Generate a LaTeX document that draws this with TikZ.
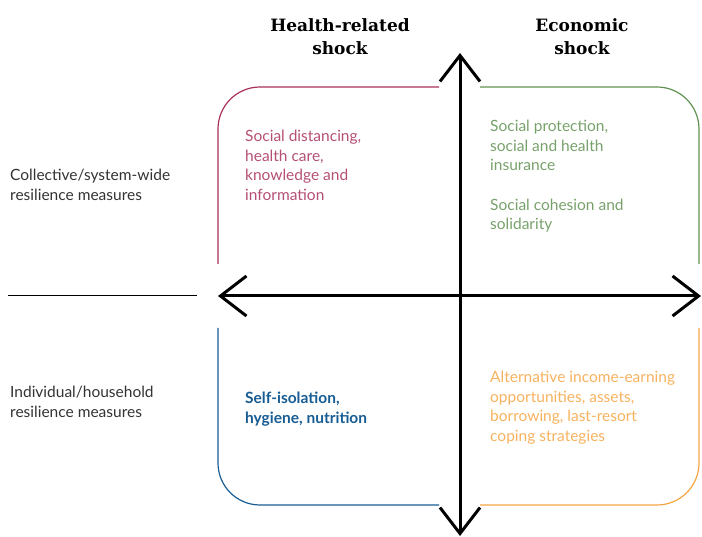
\documentclass[tikz,border=0pt]{standalone}
\usepackage{fontspec}
\setmainfont{Lato}
\newfontfamily\headfont{DejaVu Serif}
\usetikzlibrary{arrows.meta}

\definecolor{healthred}{HTML}{A8305C}
\definecolor{econgreen}{HTML}{5F9150}
\definecolor{selfblue}{HTML}{175C93}
\definecolor{copeorange}{HTML}{F6A443}
\definecolor{labelgray}{HTML}{333333}

\begin{document}
\begin{tikzpicture}[x=1pt,y=-1pt]
      \tikzstyle{every node}=[inner sep=0pt, anchor=north west, align=left,
        font=\fontsize{15.5}{19.6}\selectfont]
      \tikzstyle{heading}=[anchor=north, align=center,
        font=\headfont\bfseries\fontsize{17}{23}\selectfont]
      \tikzstyle{frame}=[line width=1.2pt, rounded corners=42pt]
      \tikzstyle{axis}=[line width=3pt,
        {Straight Barb[length=26pt,width=40pt]}-{Straight Barb[length=26pt,width=40pt]}]
      \useasboundingbox (0,0) rectangle (702,537);

      % column headings
      \node[heading] (health) at (340,18) {Health-related\\shock};
      \node[heading] (econ) at (582,18) {Economic\\shock};

      % row labels
      \node[text=labelgray] (collective) at (10,169)
        {Collective/system-wide\\resilience measures};
      \node[text=labelgray] (individual) at (10,386)
        {Individual/household\\resilience measures};
      \coordinate (rowl) at (8,296);
      \coordinate (rowr) at (197,296);
      \draw [line width=1pt] (rowl) -- (rowr);

      % quadrant frames
      \draw [frame, healthred] (218,264) -- (218,87) -- (439,87);
      \draw [frame, econgreen] (480,87) -- (699,87) -- (699,264);
      \draw [frame, selfblue] (218,328) -- (218,505) -- (439,505);
      \draw [frame, copeorange] (480,505) -- (699,505) -- (699,328);

      % quadrant contents
      \node[text=healthred!85] (tl) at (245,130)
        {Social distancing,\\health care,\\knowledge and\\information};
      \node[text=econgreen!85] (tr) at (490,120)
        {Social protection,\\social and health\\insurance\\[19.6pt]Social cohesion and\\solidarity};
      \node[text=selfblue, font=\bfseries\fontsize{15.5}{19.6}\selectfont] (bl) at (245,392)
        {Self-isolation,\\hygiene, nutrition};
      \node[text=copeorange!85] (br) at (490,371)
        {Alternative income-earning\\opportunities, assets,\\borrowing, last-resort\\coping strategies};

      % axes
      \coordinate (west) at (218,296);
      \coordinate (east) at (701,296);
      \coordinate (north) at (460,53);
      \coordinate (south) at (460,536);
      \draw [axis] (west) -- (east);
      \draw [axis] (south) -- (north);
\end{tikzpicture}
\end{document}
